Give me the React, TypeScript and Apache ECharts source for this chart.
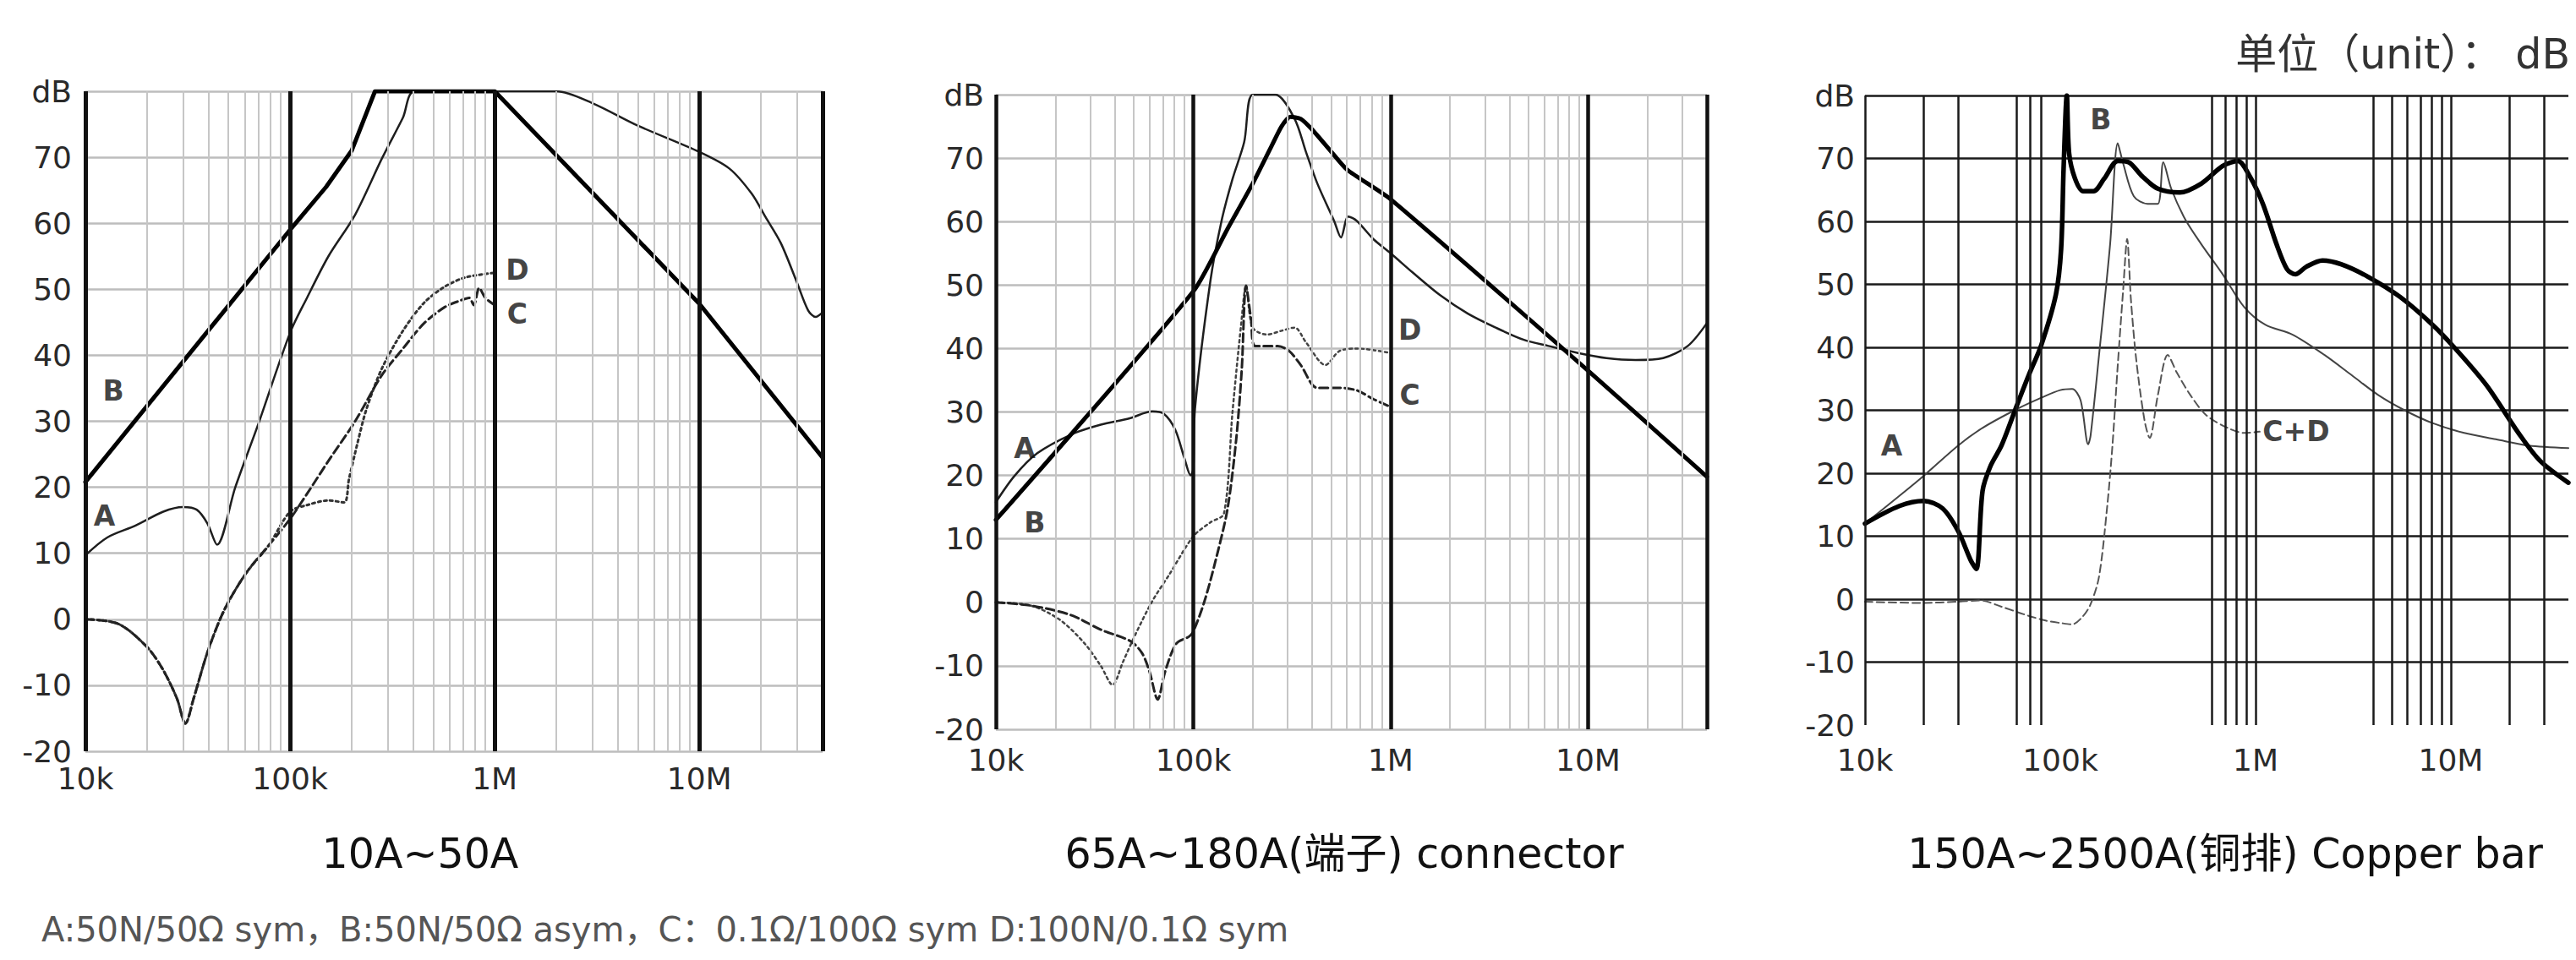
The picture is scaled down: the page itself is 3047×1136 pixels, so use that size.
import React, { useEffect, useRef } from 'react';
import * as echarts from 'echarts';

type P = [number, number];

// ---------- axes ----------
const freqMin = 1e4;
const freqMax = 4e7;
const yMin = -20;
const yMax = 80;
const yStep = 10;
const xTickLabels = ['10k', '100k', '1M', '10M']; // 10^4 .. 10^7
const minorFreqs = [2e4, 3e4, 4e4, 5e4, 6e4, 7e4, 8e4, 9e4, 2e5, 3e5, 4e5, 5e5, 6e5, 7e5, 8e5, 9e5, 2e6, 3e6, 4e6, 5e6, 6e6, 7e6, 8e6, 9e6, 2e7, 3e7];
const majorFreqs = [1e4, 1e5, 1e6, 1e7, 4e7];
const chart3Freqs = [1e4, 2e4, 3e4, 6e4, 7e4, 8e4, 6e5, 7e5, 8e5, 9e5, 1e6, 4e6, 5e6, 6e6, 7e6, 8e6, 9e6, 1e7, 2e7, 3e7];

// ---------- chart 1 : 10A~50A ----------
const c1A: P[] = [[1e4, 9.7], [1.28e4, 12.4], [1.76e4, 14.2], [2.4e4, 16.3], [3.0e4, 17], [3.5e4, 16.6], [3.95e4, 14.5], [4.4e4, 11.3], [5.4e4, 20], [7e4, 29.6], [1e5, 43.4], [1.21e5, 48.7], [1.54e5, 55], [2.08e5, 61.3], [2.81e5, 69.8], [3.56e5, 76], [4.07e5, 80], [2e6, 80], [3e6, 78.2], [5e6, 74.8], [1e7, 70.8], [1.4e7, 68.3], [1.8e7, 64.5], [2.1e7, 61], [2.5e7, 57], [3e7, 51], [3.4e7, 46.8], [3.7e7, 45.8], [4e7, 46.5]];
const c1B: P[] = [[1e4, 20.8], [1e5, 59], [1.5e5, 65.5], [2e5, 71], [2.6e5, 80], [1e6, 80], [1e7, 47.8], [4e7, 24.5]];
const c1CD: P[] = [[1e4, 0], [1.45e4, -0.7], [2e4, -4.2], [2.4e4, -7.7], [2.8e4, -12], [3.08e4, -15.8], [3.38e4, -12], [3.96e4, -4.9], [4.77e4, 1.4], [6.1e4, 7], [7.87e4, 11.2]];
const c1C: P[] = [[1e5, 15.2], [1.21e5, 19], [1.54e5, 24], [2.08e5, 30], [2.81e5, 37], [3.56e5, 41], [4.5e5, 44.8], [5.7e5, 47.3], [6.8e5, 48.3], [7.5e5, 48.7], [7.9e5, 47.6], [8.4e5, 50.2], [9e5, 48.7], [1e6, 47.6]];
const c1D: P[] = [[1e5, 16.3], [1.21e5, 17.3], [1.54e5, 18], [1.84e5, 17.7], [1.94e5, 21.2], [2.14e5, 26.8], [2.36e5, 31.8], [2.81e5, 38], [3.56e5, 43.7], [4.5e5, 47.9], [5.7e5, 50.4], [7.2e5, 51.8], [1e6, 52.5]];

// ---------- chart 2 : 65A~180A connector ----------
const c2A: P[] = [[1e4, 15.8], [1.24e4, 19.9], [1.62e4, 23.5], [2.43e4, 26.5], [3.4e4, 28], [4.76e4, 29], [6.2e4, 30.1], [7.1e4, 29.7], [8.1e4, 27.2], [9e4, 22.8], [9.7e4, 20], [1e5, 21], [1.02e5, 30.5], [1.22e5, 50.6], [1.39e5, 60.1], [1.58e5, 66.7], [1.81e5, 72.5], [2e5, 80], [2.6e5, 80], [3.26e5, 76.2], [3.72e5, 71], [4.25e5, 66], [5.17e5, 60.1], [5.6e5, 57.5], [6.1e5, 60.8], [6.74e5, 60.1], [8.2e5, 57.2], [1e6, 55], [1.29e6, 52], [1.78e6, 48.4], [2.46e6, 45.5], [3.4e6, 43.3], [4.7e6, 41.4], [6.3e6, 40.4], [8.9e6, 39.3], [1.24e7, 38.5], [1.74e7, 38.2], [2.4e7, 38.5], [3.2e7, 40.4], [4e7, 44]];
const c2B: P[] = [[1e4, 13], [1e5, 49], [1.5e5, 59], [2e5, 66], [2.5e5, 72], [2.8e5, 75], [3.1e5, 76.5], [3.5e5, 76.2], [4e5, 74.5], [5e5, 71], [6e5, 68.2], [1e6, 63.5], [1e7, 36.5], [4e7, 19.8]];
const c2C: P[] = [[1e4, 0], [1.5e4, -0.5], [2.4e4, -2], [3.4e4, -4.3], [4.8e4, -6.1], [5.5e4, -8], [6e4, -10.9], [6.6e4, -15.3], [7.2e4, -10.9], [8.2e4, -6.5], [9.5e4, -5.4], [1e5, -4.6], [1.14e5, 0.2], [1.3e5, 6.7], [1.49e5, 14.7], [1.65e5, 25.7], [1.76e5, 36.7], [1.85e5, 49.9], [1.96e5, 44.7], [2.06e5, 40.4], [2.68e5, 40.4], [3.06e5, 39.6], [3.5e5, 37.4], [4.25e5, 33.8], [5.5e5, 33.8], [6.74e5, 33.4], [8.2e5, 32], [1e6, 30.8]];
const c2D: P[] = [[1e4, 0], [1.5e4, -0.5], [2.1e4, -2.7], [2.8e4, -6.4], [3.4e4, -10], [3.9e4, -13], [4.4e4, -9.4], [5.1e4, -5], [6.2e4, 0.2], [7.6e4, 4.5], [1e5, 10.4], [1.22e5, 12.6], [1.43e5, 14], [1.58e5, 30], [1.75e5, 44], [1.85e5, 49.9], [2e5, 43.3], [2.36e5, 42.2], [2.8e5, 42.8], [3.26e5, 43.3], [3.72e5, 41], [4.67e5, 37.4], [5.5e5, 39.6], [6.74e5, 40], [1e6, 39.3]];

// ---------- chart 3 : 150A~2500A copper bar ----------
const c3A: P[] = [[1e4, 12], [1.5e4, 16.4], [2e4, 19.6], [3e4, 24.4], [4e4, 27.2], [6e4, 30.2], [8e4, 32], [1e5, 33.2], [1.15e5, 33.4], [1.27e5, 31.6], [1.39e5, 24.6], [1.43e5, 26], [1.58e5, 38.8], [1.8e5, 56.4], [1.97e5, 72.4], [2.1e5, 69.2], [2.38e5, 64], [2.8e5, 62.8], [3.16e5, 62.8], [3.37e5, 69.4], [3.7e5, 65.2], [4.35e5, 60.4], [5.27e5, 56.4], [6.79e5, 51.6], [8.75e5, 46.4], [1.12e6, 43.6], [1.55e6, 42], [2.25e6, 38.8], [3.1e6, 35.6], [4.26e6, 32.4], [5.8e6, 30], [8e6, 28], [1.17e7, 26.4], [1.7e7, 25.4], [2.5e7, 24.4], [4e7, 24]];
const c3B: P[] = [[1e4, 12], [1.5e4, 14.8], [2e4, 15.6], [2.5e4, 14.4], [3e4, 10.8], [3.5e4, 6], [3.72e4, 4.8], [4e4, 17.2], [4.4e4, 21.2], [5e4, 24.4], [6e4, 30.8], [6.9e4, 35.6], [8e4, 40.4], [9.5e4, 48.4], [1.01e5, 55.6], [1.04e5, 68.4], [1.08e5, 80], [1.11e5, 70.8], [1.19e5, 66.8], [1.31e5, 64.8], [1.48e5, 64.8], [1.68e5, 66.8], [1.97e5, 69.6], [2.24e5, 69.4], [2.62e5, 67.2], [3.16e5, 65.2], [4.09e5, 64.6], [5.27e5, 66], [6.79e5, 68.8], [8.11e5, 69.6], [9.33e5, 67.2], [1.09e6, 62.8], [1.28e6, 56.4], [1.45e6, 52.4], [1.6e6, 51.6], [1.82e6, 52.8], [2.2e6, 53.8], [2.74e6, 53.2], [3.77e6, 51.2], [5.5e6, 48], [8.05e6, 43.6], [1.04e7, 40], [1.52e7, 34], [2.22e7, 26.4], [2.86e7, 22], [4e7, 18.5]];
const c3CD: P[] = [[1e4, -0.4], [1.95e4, -0.6], [3e4, -0.4], [3.9e4, -0.2], [5e4, -1.2], [6.5e4, -2.4], [8.4e4, -3.4], [1.01e5, -3.8], [1.15e5, -4], [1.3e5, -2.8], [1.43e5, -0.8], [1.58e5, 3.6], [1.74e5, 14.8], [1.85e5, 24.4], [1.97e5, 37.2], [2.1e5, 49.2], [2.2e5, 57.2], [2.3e5, 47.6], [2.45e5, 38], [2.7e5, 28.4], [2.87e5, 25.6], [3.16e5, 32.4], [3.55e5, 38.8], [3.95e5, 36], [4.64e5, 32.4], [5.6e5, 29.2], [7.2e5, 27.2], [8.75e5, 26.4], [1.05e6, 26.6]];

// ---------- curve name tags (name, freq, dB) ----------
const tags1: [string, number, number][] = [['A', 1.24e4, 15.6], ['B', 1.37e4, 34.6], ['D', 1.29e6, 52.9], ['C', 1.29e6, 46.2]];
const tags2: [string, number, number][] = [['A', 1.4e4, 24.3], ['B', 1.57e4, 12.6], ['D', 1.25e6, 42.9], ['C', 1.25e6, 32.7]];
const tags3: [string, number, number][] = [['A', 1.37e4, 24.4], ['B', 1.61e5, 76.2]];
const tags3Right: [string, number, number][] = [['C+D', 1.06e6, 26.6]];

const titles = ['10A~50A', '65A~180A(端子) connector', '150A~2500A(铜排) Copper bar'];
const footnote = 'A:50N/50Ω sym，B:50N/50Ω asym，C：0.1Ω/100Ω sym D:100N/0.1Ω sym';
const unitText = '单位（unit）： dB';

// ---------- layout ----------
const FONT = '"DejaVu Sans", "Noto Sans CJK SC", sans-serif';
const grids = [
  { left: 101, top: 108, width: 872, height: 781 },
  { left: 1178, top: 112, width: 841, height: 751 },
  { left: 2206, top: 113, width: 832, height: 745 },
];
const yLabelMargin = [16, 14, 12];
const xLabelMargin = [14, 18, 23];
const titleX = [497, 1590, 2632];

function xLabel(v: number) {
  const lg = Math.log10(v);
  const r = Math.round(lg);
  if (Math.abs(lg - r) > 1e-6) return '';
  return xTickLabels[r - 4] ?? '';
}

function tagPoints(i: number, tags: [string, number, number][], position: string) {
  return {
    type: 'scatter',
    xAxisIndex: i,
    yAxisIndex: i,
    data: tags.map(([n, x, y]) => ({ name: n, value: [x, y] })),
    symbolSize: 1,
    itemStyle: { color: 'rgba(0,0,0,0)' },
    silent: true,
    z: 10,
    label: {
      show: true,
      formatter: '{b}',
      position,
      distance: 2,
      fontFamily: FONT,
      fontWeight: 'bold',
      fontSize: 33,
      color: '#111',
    },
  };
}

function curve(i: number, data: P[], color: string, width: number, type: any, smooth: number | boolean, z = 3) {
  return {
    type: 'line',
    xAxisIndex: i,
    yAxisIndex: i,
    data,
    symbol: 'none',
    showSymbol: false,
    smooth,
    silent: true,
    z,
    lineStyle: { color, width, type, cap: 'round', join: 'round' },
  };
}

function gridLines(i: number, lines: { xAxis: number; lineStyle: any }[]) {
  return {
    type: 'line',
    xAxisIndex: i,
    yAxisIndex: i,
    data: [[freqMin, yMin]],
    symbol: 'none',
    lineStyle: { opacity: 0 },
    silent: true,
    z: 1,
    markLine: {
      silent: true,
      symbol: ['none', 'none'],
      label: { show: false },
      animation: false,
      data: lines,
    },
  };
}

function buildOption() {
  const xAxis = grids.map((_, i) => ({
    type: 'log',
    logBase: 10,
    gridIndex: i,
    min: freqMin,
    max: freqMax,
    axisLine: { show: false },
    axisTick: { show: false },
    splitLine: { show: false },
    axisLabel: { formatter: xLabel, fontFamily: FONT, fontSize: 36, color: '#2a2a2a', margin: xLabelMargin[i], showMaxLabel: false },
  }));
  const yAxis = grids.map((_, i) => ({
    type: 'value',
    gridIndex: i,
    min: yMin,
    max: yMax,
    interval: yStep,
    axisLine: { show: false },
    axisTick: { show: false },
    splitLine: {
      show: true,
      showMinLine: i < 2,
      lineStyle: { color: i < 2 ? '#bdbdbd' : '#1a1a1a', width: 2.5 },
    },
    axisLabel: {
      formatter: (v: number) => (v === yMax ? 'dB' : String(v)),
      fontFamily: FONT,
      fontSize: 36,
      color: '#2a2a2a',
      margin: yLabelMargin[i],
    },
  }));

  const minorStyle = { color: '#c6c6c6', width: 2, type: 'solid' };
  const lines12 = (majorW: number) => [
    ...minorFreqs.map((v) => ({ xAxis: v, lineStyle: minorStyle })),
    ...majorFreqs.map((v) => ({ xAxis: v, lineStyle: { color: '#111', width: majorW, type: 'solid' } })),
  ];
  const lines3 = chart3Freqs.map((v) => ({ xAxis: v, lineStyle: { color: '#1a1a1a', width: 2.5, type: 'solid' } }));

  const series: any[] = [
    gridLines(0, lines12(5)),
    gridLines(1, lines12(4.5)),
    gridLines(2, lines3),
    // chart 1
    curve(0, [...c1CD, ...c1D], '#333', 3, [3, 4], 0.3),
    curve(0, [...c1CD, ...c1C], '#222', 3, [10, 5], 0.3),
    curve(0, c1A, '#1e1e1e', 2.5, 'solid', 0.3),
    curve(0, c1B, '#000', 5, 'solid', false, 4),
    tagPoints(0, tags1, 'inside'),
    // chart 2
    curve(1, c2D, '#444', 2.5, [3, 4], 0.3),
    curve(1, c2C, '#222', 3, [10, 5], 0.3),
    curve(1, c2A, '#1e1e1e', 2.5, 'solid', 0.3),
    curve(1, c2B, '#000', 5, 'solid', 0.2, 4),
    tagPoints(1, tags2, 'inside'),
    // chart 3
    curve(2, c3CD, '#555', 2, [9, 5], 0.3),
    curve(2, c3A, '#444', 2, 'solid', 0.3),
    curve(2, c3B, '#000', 5.5, 'solid', 0.3, 4),
    tagPoints(2, tags3, 'inside'),
    tagPoints(2, tags3Right, 'right'),
  ];

  const graphic: any[] = [
    ...titles.map((t, i) => ({
      type: 'text',
      x: titleX[i],
      y: 1010,
      silent: true,
      style: { text: t, font: `49px ${FONT}`, fill: '#111', align: 'center', verticalAlign: 'middle' },
    })),
    {
      type: 'text',
      x: 49,
      y: 1100,
      silent: true,
      style: { text: footnote, font: `40px ${FONT}`, fill: '#555', align: 'left', verticalAlign: 'middle' },
    },
    {
      type: 'text',
      x: 3040,
      y: 64,
      silent: true,
      style: { text: unitText, font: `49px ${FONT}`, fill: '#333', align: 'right', verticalAlign: 'middle' },
    },
  ];

  return {
    animation: false,
    backgroundColor: '#fff',
    grid: grids.map((g) => ({ ...g, containLabel: false })),
    xAxis,
    yAxis,
    series,
    graphic,
  };
}

export default function App() {
  const ref = useRef<HTMLDivElement>(null);
  useEffect(() => {
    if (!ref.current) return;
    const chart = echarts.init(ref.current, null, { renderer: 'svg' });
    chart.setOption(buildOption() as any);
    return () => chart.dispose();
  }, []);
  return (
    <div
      ref={ref}
      style={{ position: 'absolute', left: 0, top: 0, width: 3047, height: 1136, background: '#fff' }}
    />
  );
}
